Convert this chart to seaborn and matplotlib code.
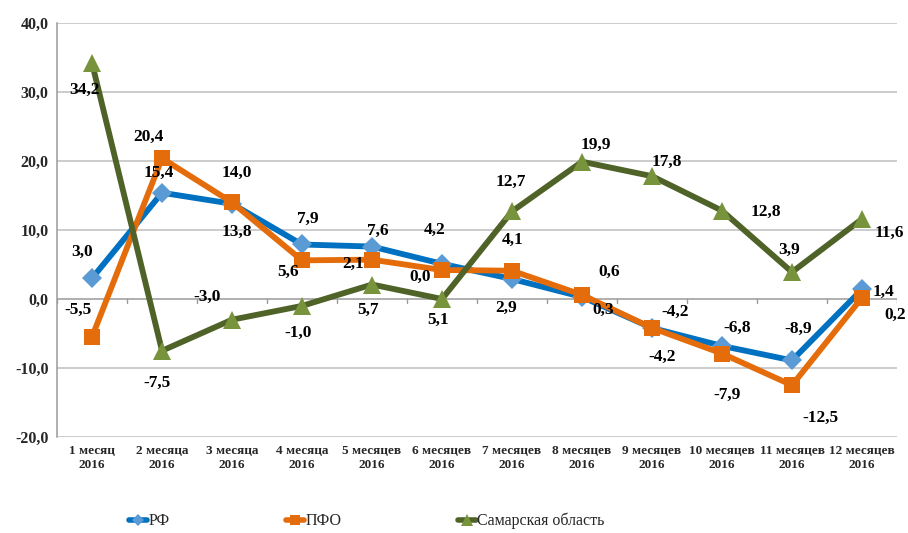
import numpy as np
import pandas as pd
import matplotlib
matplotlib.use("Agg")
import matplotlib.pyplot as plt
import seaborn as sns

# ---------------- data ----------------
categories = ["1 месяц\n2016", "2 месяца\n2016", "3 месяца\n2016", "4 месяца\n2016",
              "5 месяцев\n2016", "6 месяцев\n2016", "7 месяцев\n2016", "8 месяцев\n2016",
              "9 месяцев\n2016", "10 месяцев\n2016", "11 месяцев\n2016", "12 месяцев\n2016"]
rf = [3.0, 15.4, 13.8, 7.9, 7.6, 5.1, 2.9, 0.3, -4.2, -6.8, -8.9, 1.4]
pfo = [-5.5, 20.4, 14.0, 5.6, 5.7, 4.2, 4.1, 0.6, -4.2, -7.9, -12.5, 0.2]
samara = [34.2, -7.5, -3.0, -1.0, 2.1, 0.0, 12.7, 19.9, 17.8, 12.8, 3.9, 11.6]
series_names = ["РФ", "ПФО", "Самарская область"]
y_ticks = [-20, -10, 0, 10, 20, 30, 40]

# label offsets (pixels) relative to each point
rf_off = [(-10, 26), (-3, 20), (5, -28), (6, 26), (6, 16), (-4, -56), (-6, -29),
          (21, -13), (23, 16), (15, 18), (6, 32), (21, -3)]
pfo_off = [(-14, 27), (-14, 21), (5, 30), (-14, -12), (-4, -50), (-7, 40), (1, 31),
           (27, 23), (10, -29), (5, -41), (28, -33), (33, -17)]
sam_off = [(-8, -27), (-5, -32), (-25, 23), (-4, -27), (-19, 21), (-22, 22), (-1, 29),
           (14, 17), (15, 14), (44, -1), (-3, 22), (27, -14)]

styles = [
    dict(color="#0070C0", marker="D", mfc="#5B9BD5", ms=10),
    dict(color="#E46C0A", marker="s", mfc="#E46C0A", ms=11),
    dict(color="#4F6228", marker="^", mfc="#77933C", ms=13),
]

sns.set_theme(style="white")
plt.rcParams["font.family"] = ["Liberation Serif", "DejaVu Serif"]

fig = plt.figure(figsize=(9.08, 5.33), dpi=100)
ax = fig.add_axes([57 / 908, 1 - 437 / 533, 840 / 908, 414 / 533])

x = np.arange(len(categories))
all_series = [rf, pfo, samara]
all_offs = [rf_off, pfo_off, sam_off]

for vals, name, st in zip(all_series, series_names, styles):
    df = pd.DataFrame({"x": x, "y": vals})
    sns.lineplot(data=df, x="x", y="y", ax=ax, color=st["color"], linewidth=4.2,
                 marker=st["marker"], markersize=st["ms"], markerfacecolor=st["mfc"],
                 markeredgecolor=st["mfc"], markeredgewidth=0, label=name, zorder=3)

for vals, offs in zip(all_series, all_offs):
    for xi, v, (dx, dy) in zip(x, vals, offs):
        ax.annotate(f"{v:.1f}".replace(".", ","), (xi, v), xytext=(dx, dy),
                    textcoords="offset pixels", ha="center", va="center",
                    fontsize=12.5, fontweight="bold", color="black", zorder=5)

ax.set_xlim(-0.5, len(categories) - 0.5)
ax.set_ylim(-20, 40)
ax.set_yticks(y_ticks)
ax.set_yticklabels([f"{t:.1f}".replace(".", ",") for t in y_ticks],
                   fontsize=11.5, fontweight="bold")
ax.set_xticks(x)
ax.set_xticklabels(categories, fontsize=9.5, fontweight="bold", linespacing=1.15)
ax.tick_params(axis="both", length=0, pad=6)
ax.set_xlabel("")
ax.set_ylabel("")

for t in y_ticks:
    ax.axhline(t, color="#BFBFBF" if t != 0 else "#9A9A9A", linewidth=1.1, zorder=1)
# small tick marks on the zero line between categories
for b in np.arange(-0.5, len(categories), 1.0):
    ax.plot([b, b], [0, -0.6], color="#9A9A9A", linewidth=1, zorder=1)

for side in ["top", "right", "bottom"]:
    ax.spines[side].set_visible(False)
ax.spines["left"].set_color("#9A9A9A")
ax.spines["left"].set_linewidth(1.1)

leg = ax.legend(loc="center", bbox_to_anchor=(0.369, -0.203), ncol=3, frameon=False,
                fontsize=11.5, handlelength=1.1, handletextpad=0.1,
                columnspacing=7.3, markerscale=0.65, borderpad=0, borderaxespad=0)
for h in leg.get_lines():
    h.set_linewidth(4)

fig.savefig("out.png", dpi=100)
